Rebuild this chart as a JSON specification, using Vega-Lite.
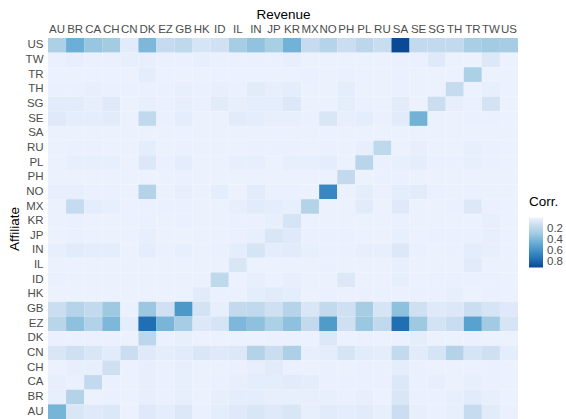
{
"$schema": "https://vega.github.io/schema/vega-lite/v6.json",
"width": 470,
"height": 381,
"autosize": {"type": "none"},
"padding": {"left": 48, "top": 38, "right": 48, "bottom": 0},
"background": "white",
"config": {"view": {"stroke": null}, "font": "Liberation Sans"},
"data": {"values": [
{"a":"US","r":"AU","v":0.25},{"a":"US","r":"BR","v":0.45},{"a":"US","r":"CA","v":0.32},{"a":"US","r":"CH","v":0.28},{"a":"US","r":"CN","v":0.05},{"a":"US","r":"DK","v":0.40},{"a":"US","r":"EZ","v":0.15},{"a":"US","r":"GB","v":0.18},{"a":"US","r":"HK","v":0.09},{"a":"US","r":"ID","v":0.11},{"a":"US","r":"IL","v":0.27},{"a":"US","r":"IN","v":0.34},{"a":"US","r":"JP","v":0.26},{"a":"US","r":"KR","v":0.43},{"a":"US","r":"MX","v":0.15},{"a":"US","r":"NO","v":0.21},{"a":"US","r":"PH","v":0.13},{"a":"US","r":"PL","v":0.19},{"a":"US","r":"RU","v":0.14},{"a":"US","r":"SA","v":0.89},{"a":"US","r":"SE","v":0.16},{"a":"US","r":"SG","v":0.16},{"a":"US","r":"TH","v":0.16},{"a":"US","r":"TR","v":0.26},{"a":"US","r":"TW","v":0.28},{"a":"US","r":"US","v":0.27},
{"a":"TW","r":"AU","v":0.02},{"a":"TW","r":"BR","v":0.03},{"a":"TW","r":"CA","v":0.02},{"a":"TW","r":"CH","v":0.02},{"a":"TW","r":"CN","v":0.03},{"a":"TW","r":"DK","v":0.03},{"a":"TW","r":"EZ","v":0.02},{"a":"TW","r":"GB","v":0.02},{"a":"TW","r":"HK","v":0.03},{"a":"TW","r":"ID","v":0.02},{"a":"TW","r":"IL","v":0.02},{"a":"TW","r":"IN","v":0.02},{"a":"TW","r":"JP","v":0.02},{"a":"TW","r":"KR","v":0.03},{"a":"TW","r":"MX","v":0.01},{"a":"TW","r":"NO","v":0.01},{"a":"TW","r":"PH","v":0.01},{"a":"TW","r":"PL","v":0.01},{"a":"TW","r":"RU","v":0.01},{"a":"TW","r":"SA","v":0.02},{"a":"TW","r":"SE","v":0.02},{"a":"TW","r":"SG","v":0.06},{"a":"TW","r":"TH","v":0.01},{"a":"TW","r":"TR","v":0.01},{"a":"TW","r":"TW","v":0.07},{"a":"TW","r":"US","v":0.01},
{"a":"TR","r":"AU","v":0.01},{"a":"TR","r":"BR","v":0.01},{"a":"TR","r":"CA","v":0.01},{"a":"TR","r":"CH","v":0.01},{"a":"TR","r":"CN","v":0.01},{"a":"TR","r":"DK","v":0.04},{"a":"TR","r":"EZ","v":0.01},{"a":"TR","r":"GB","v":0.01},{"a":"TR","r":"HK","v":0.01},{"a":"TR","r":"ID","v":0.01},{"a":"TR","r":"IL","v":0.01},{"a":"TR","r":"IN","v":0.01},{"a":"TR","r":"JP","v":0.01},{"a":"TR","r":"KR","v":0.01},{"a":"TR","r":"MX","v":0.02},{"a":"TR","r":"NO","v":0.01},{"a":"TR","r":"PH","v":0.02},{"a":"TR","r":"PL","v":0.01},{"a":"TR","r":"RU","v":0.01},{"a":"TR","r":"SA","v":0.02},{"a":"TR","r":"SE","v":0.01},{"a":"TR","r":"SG","v":0.01},{"a":"TR","r":"TH","v":0.01},{"a":"TR","r":"TR","v":0.25},{"a":"TR","r":"TW","v":0.01},{"a":"TR","r":"US","v":0.01},
{"a":"TH","r":"AU","v":0.02},{"a":"TH","r":"BR","v":0.02},{"a":"TH","r":"CA","v":0.03},{"a":"TH","r":"CH","v":0.02},{"a":"TH","r":"CN","v":0.02},{"a":"TH","r":"DK","v":0.02},{"a":"TH","r":"EZ","v":0.02},{"a":"TH","r":"GB","v":0.03},{"a":"TH","r":"HK","v":0.02},{"a":"TH","r":"ID","v":0.03},{"a":"TH","r":"IL","v":0.02},{"a":"TH","r":"IN","v":0.05},{"a":"TH","r":"JP","v":0.03},{"a":"TH","r":"KR","v":0.04},{"a":"TH","r":"MX","v":0.01},{"a":"TH","r":"NO","v":0.01},{"a":"TH","r":"PH","v":0.04},{"a":"TH","r":"PL","v":0.01},{"a":"TH","r":"RU","v":0.01},{"a":"TH","r":"SA","v":0.02},{"a":"TH","r":"SE","v":0.01},{"a":"TH","r":"SG","v":0.01},{"a":"TH","r":"TH","v":0.15},{"a":"TH","r":"TR","v":0.01},{"a":"TH","r":"TW","v":0.03},{"a":"TH","r":"US","v":0.01},
{"a":"SG","r":"AU","v":0.05},{"a":"SG","r":"BR","v":0.05},{"a":"SG","r":"CA","v":0.03},{"a":"SG","r":"CH","v":0.06},{"a":"SG","r":"CN","v":0.01},{"a":"SG","r":"DK","v":0.03},{"a":"SG","r":"EZ","v":0.02},{"a":"SG","r":"GB","v":0.03},{"a":"SG","r":"HK","v":0.02},{"a":"SG","r":"ID","v":0.05},{"a":"SG","r":"IL","v":0.03},{"a":"SG","r":"IN","v":0.04},{"a":"SG","r":"JP","v":0.04},{"a":"SG","r":"KR","v":0.07},{"a":"SG","r":"MX","v":0.01},{"a":"SG","r":"NO","v":0.01},{"a":"SG","r":"PH","v":0.04},{"a":"SG","r":"PL","v":0.02},{"a":"SG","r":"RU","v":0.01},{"a":"SG","r":"SA","v":0.05},{"a":"SG","r":"SE","v":0.01},{"a":"SG","r":"SG","v":0.13},{"a":"SG","r":"TH","v":0.03},{"a":"SG","r":"TR","v":0.02},{"a":"SG","r":"TW","v":0.10},{"a":"SG","r":"US","v":0.01},
{"a":"SE","r":"AU","v":0.06},{"a":"SE","r":"BR","v":0.04},{"a":"SE","r":"CA","v":0.04},{"a":"SE","r":"CH","v":0.05},{"a":"SE","r":"CN","v":0.01},{"a":"SE","r":"DK","v":0.17},{"a":"SE","r":"EZ","v":0.02},{"a":"SE","r":"GB","v":0.04},{"a":"SE","r":"HK","v":0.01},{"a":"SE","r":"ID","v":0.01},{"a":"SE","r":"IL","v":0.05},{"a":"SE","r":"IN","v":0.04},{"a":"SE","r":"JP","v":0.03},{"a":"SE","r":"KR","v":0.03},{"a":"SE","r":"MX","v":0.02},{"a":"SE","r":"NO","v":0.08},{"a":"SE","r":"PH","v":0.03},{"a":"SE","r":"PL","v":0.04},{"a":"SE","r":"RU","v":0.02},{"a":"SE","r":"SA","v":0.05},{"a":"SE","r":"SE","v":0.43},{"a":"SE","r":"SG","v":0.01},{"a":"SE","r":"TH","v":0.01},{"a":"SE","r":"TR","v":0.02},{"a":"SE","r":"TW","v":0.02},{"a":"SE","r":"US","v":0.01},
{"a":"SA","r":"AU","v":0.01},{"a":"SA","r":"BR","v":0.01},{"a":"SA","r":"CA","v":0.01},{"a":"SA","r":"CH","v":0.01},{"a":"SA","r":"CN","v":0.01},{"a":"SA","r":"DK","v":0.01},{"a":"SA","r":"EZ","v":0.01},{"a":"SA","r":"GB","v":0.01},{"a":"SA","r":"HK","v":0.01},{"a":"SA","r":"ID","v":0.01},{"a":"SA","r":"IL","v":0.01},{"a":"SA","r":"IN","v":0.01},{"a":"SA","r":"JP","v":0.01},{"a":"SA","r":"KR","v":0.01},{"a":"SA","r":"MX","v":0.01},{"a":"SA","r":"NO","v":0.01},{"a":"SA","r":"PH","v":0.01},{"a":"SA","r":"PL","v":0.01},{"a":"SA","r":"RU","v":0.01},{"a":"SA","r":"SA","v":0.01},{"a":"SA","r":"SE","v":0.01},{"a":"SA","r":"SG","v":0.01},{"a":"SA","r":"TH","v":0.01},{"a":"SA","r":"TR","v":0.01},{"a":"SA","r":"TW","v":0.01},{"a":"SA","r":"US","v":0.01},
{"a":"RU","r":"AU","v":0.01},{"a":"RU","r":"BR","v":0.02},{"a":"RU","r":"CA","v":0.02},{"a":"RU","r":"CH","v":0.01},{"a":"RU","r":"CN","v":0.01},{"a":"RU","r":"DK","v":0.04},{"a":"RU","r":"EZ","v":0.01},{"a":"RU","r":"GB","v":0.02},{"a":"RU","r":"HK","v":0.01},{"a":"RU","r":"ID","v":0.01},{"a":"RU","r":"IL","v":0.01},{"a":"RU","r":"IN","v":0.02},{"a":"RU","r":"JP","v":0.02},{"a":"RU","r":"KR","v":0.02},{"a":"RU","r":"MX","v":0.01},{"a":"RU","r":"NO","v":0.02},{"a":"RU","r":"PH","v":0.01},{"a":"RU","r":"PL","v":0.03},{"a":"RU","r":"RU","v":0.18},{"a":"RU","r":"SA","v":0.01},{"a":"RU","r":"SE","v":0.03},{"a":"RU","r":"SG","v":0.01},{"a":"RU","r":"TH","v":0.01},{"a":"RU","r":"TR","v":0.03},{"a":"RU","r":"TW","v":0.02},{"a":"RU","r":"US","v":0.01},
{"a":"PL","r":"AU","v":0.01},{"a":"PL","r":"BR","v":0.03},{"a":"PL","r":"CA","v":0.03},{"a":"PL","r":"CH","v":0.03},{"a":"PL","r":"CN","v":0.01},{"a":"PL","r":"DK","v":0.07},{"a":"PL","r":"EZ","v":0.02},{"a":"PL","r":"GB","v":0.04},{"a":"PL","r":"HK","v":0.01},{"a":"PL","r":"ID","v":0.01},{"a":"PL","r":"IL","v":0.03},{"a":"PL","r":"IN","v":0.03},{"a":"PL","r":"JP","v":0.01},{"a":"PL","r":"KR","v":0.03},{"a":"PL","r":"MX","v":0.03},{"a":"PL","r":"NO","v":0.04},{"a":"PL","r":"PH","v":0.01},{"a":"PL","r":"PL","v":0.20},{"a":"PL","r":"RU","v":0.02},{"a":"PL","r":"SA","v":0.03},{"a":"PL","r":"SE","v":0.04},{"a":"PL","r":"SG","v":0.02},{"a":"PL","r":"TH","v":0.02},{"a":"PL","r":"TR","v":0.03},{"a":"PL","r":"TW","v":0.02},{"a":"PL","r":"US","v":0.01},
{"a":"PH","r":"AU","v":0.01},{"a":"PH","r":"BR","v":0.01},{"a":"PH","r":"CA","v":0.01},{"a":"PH","r":"CH","v":0.01},{"a":"PH","r":"CN","v":0.01},{"a":"PH","r":"DK","v":0.01},{"a":"PH","r":"EZ","v":0.01},{"a":"PH","r":"GB","v":0.02},{"a":"PH","r":"HK","v":0.01},{"a":"PH","r":"ID","v":0.01},{"a":"PH","r":"IL","v":0.01},{"a":"PH","r":"IN","v":0.01},{"a":"PH","r":"JP","v":0.01},{"a":"PH","r":"KR","v":0.01},{"a":"PH","r":"MX","v":0.01},{"a":"PH","r":"NO","v":0.01},{"a":"PH","r":"PH","v":0.16},{"a":"PH","r":"PL","v":0.01},{"a":"PH","r":"RU","v":0.02},{"a":"PH","r":"SA","v":0.02},{"a":"PH","r":"SE","v":0.01},{"a":"PH","r":"SG","v":0.01},{"a":"PH","r":"TH","v":0.01},{"a":"PH","r":"TR","v":0.01},{"a":"PH","r":"TW","v":0.01},{"a":"PH","r":"US","v":0.01},
{"a":"NO","r":"AU","v":0.03},{"a":"NO","r":"BR","v":0.03},{"a":"NO","r":"CA","v":0.02},{"a":"NO","r":"CH","v":0.02},{"a":"NO","r":"CN","v":0.01},{"a":"NO","r":"DK","v":0.22},{"a":"NO","r":"EZ","v":0.01},{"a":"NO","r":"GB","v":0.03},{"a":"NO","r":"HK","v":0.01},{"a":"NO","r":"ID","v":0.04},{"a":"NO","r":"IL","v":0.01},{"a":"NO","r":"IN","v":0.05},{"a":"NO","r":"JP","v":0.02},{"a":"NO","r":"KR","v":0.02},{"a":"NO","r":"MX","v":0.01},{"a":"NO","r":"NO","v":0.65},{"a":"NO","r":"PH","v":0.01},{"a":"NO","r":"PL","v":0.04},{"a":"NO","r":"RU","v":0.02},{"a":"NO","r":"SA","v":0.04},{"a":"NO","r":"SE","v":0.05},{"a":"NO","r":"SG","v":0.02},{"a":"NO","r":"TH","v":0.01},{"a":"NO","r":"TR","v":0.02},{"a":"NO","r":"TW","v":0.01},{"a":"NO","r":"US","v":0.01},
{"a":"MX","r":"AU","v":0.01},{"a":"MX","r":"BR","v":0.15},{"a":"MX","r":"CA","v":0.04},{"a":"MX","r":"CH","v":0.03},{"a":"MX","r":"CN","v":0.01},{"a":"MX","r":"DK","v":0.02},{"a":"MX","r":"EZ","v":0.02},{"a":"MX","r":"GB","v":0.02},{"a":"MX","r":"HK","v":0.01},{"a":"MX","r":"ID","v":0.01},{"a":"MX","r":"IL","v":0.03},{"a":"MX","r":"IN","v":0.05},{"a":"MX","r":"JP","v":0.04},{"a":"MX","r":"KR","v":0.03},{"a":"MX","r":"MX","v":0.22},{"a":"MX","r":"NO","v":0.01},{"a":"MX","r":"PH","v":0.01},{"a":"MX","r":"PL","v":0.05},{"a":"MX","r":"RU","v":0.01},{"a":"MX","r":"SA","v":0.06},{"a":"MX","r":"SE","v":0.01},{"a":"MX","r":"SG","v":0.01},{"a":"MX","r":"TH","v":0.02},{"a":"MX","r":"TR","v":0.07},{"a":"MX","r":"TW","v":0.02},{"a":"MX","r":"US","v":0.01},
{"a":"KR","r":"AU","v":0.01},{"a":"KR","r":"BR","v":0.02},{"a":"KR","r":"CA","v":0.01},{"a":"KR","r":"CH","v":0.01},{"a":"KR","r":"CN","v":0.01},{"a":"KR","r":"DK","v":0.02},{"a":"KR","r":"EZ","v":0.01},{"a":"KR","r":"GB","v":0.02},{"a":"KR","r":"HK","v":0.01},{"a":"KR","r":"ID","v":0.01},{"a":"KR","r":"IL","v":0.02},{"a":"KR","r":"IN","v":0.02},{"a":"KR","r":"JP","v":0.03},{"a":"KR","r":"KR","v":0.09},{"a":"KR","r":"MX","v":0.01},{"a":"KR","r":"NO","v":0.01},{"a":"KR","r":"PH","v":0.01},{"a":"KR","r":"PL","v":0.01},{"a":"KR","r":"RU","v":0.01},{"a":"KR","r":"SA","v":0.02},{"a":"KR","r":"SE","v":0.01},{"a":"KR","r":"SG","v":0.01},{"a":"KR","r":"TH","v":0.01},{"a":"KR","r":"TR","v":0.01},{"a":"KR","r":"TW","v":0.03},{"a":"KR","r":"US","v":0.01},
{"a":"JP","r":"AU","v":0.01},{"a":"JP","r":"BR","v":0.02},{"a":"JP","r":"CA","v":0.01},{"a":"JP","r":"CH","v":0.01},{"a":"JP","r":"CN","v":0.01},{"a":"JP","r":"DK","v":0.03},{"a":"JP","r":"EZ","v":0.01},{"a":"JP","r":"GB","v":0.01},{"a":"JP","r":"HK","v":0.01},{"a":"JP","r":"ID","v":0.01},{"a":"JP","r":"IL","v":0.02},{"a":"JP","r":"IN","v":0.03},{"a":"JP","r":"JP","v":0.08},{"a":"JP","r":"KR","v":0.06},{"a":"JP","r":"MX","v":0.02},{"a":"JP","r":"NO","v":0.02},{"a":"JP","r":"PH","v":0.02},{"a":"JP","r":"PL","v":0.01},{"a":"JP","r":"RU","v":0.01},{"a":"JP","r":"SA","v":0.03},{"a":"JP","r":"SE","v":0.01},{"a":"JP","r":"SG","v":0.02},{"a":"JP","r":"TH","v":0.02},{"a":"JP","r":"TR","v":0.02},{"a":"JP","r":"TW","v":0.03},{"a":"JP","r":"US","v":0.01},
{"a":"IN","r":"AU","v":0.03},{"a":"IN","r":"BR","v":0.05},{"a":"IN","r":"CA","v":0.04},{"a":"IN","r":"CH","v":0.04},{"a":"IN","r":"CN","v":0.01},{"a":"IN","r":"DK","v":0.04},{"a":"IN","r":"EZ","v":0.02},{"a":"IN","r":"GB","v":0.03},{"a":"IN","r":"HK","v":0.01},{"a":"IN","r":"ID","v":0.02},{"a":"IN","r":"IL","v":0.04},{"a":"IN","r":"IN","v":0.09},{"a":"IN","r":"JP","v":0.04},{"a":"IN","r":"KR","v":0.05},{"a":"IN","r":"MX","v":0.03},{"a":"IN","r":"NO","v":0.02},{"a":"IN","r":"PH","v":0.02},{"a":"IN","r":"PL","v":0.03},{"a":"IN","r":"RU","v":0.03},{"a":"IN","r":"SA","v":0.07},{"a":"IN","r":"SE","v":0.02},{"a":"IN","r":"SG","v":0.01},{"a":"IN","r":"TH","v":0.02},{"a":"IN","r":"TR","v":0.04},{"a":"IN","r":"TW","v":0.03},{"a":"IN","r":"US","v":0.01},
{"a":"IL","r":"AU","v":0.01},{"a":"IL","r":"BR","v":0.01},{"a":"IL","r":"CA","v":0.01},{"a":"IL","r":"CH","v":0.01},{"a":"IL","r":"CN","v":0.01},{"a":"IL","r":"DK","v":0.01},{"a":"IL","r":"EZ","v":0.01},{"a":"IL","r":"GB","v":0.01},{"a":"IL","r":"HK","v":0.01},{"a":"IL","r":"ID","v":0.01},{"a":"IL","r":"IL","v":0.08},{"a":"IL","r":"IN","v":0.01},{"a":"IL","r":"JP","v":0.01},{"a":"IL","r":"KR","v":0.01},{"a":"IL","r":"MX","v":0.01},{"a":"IL","r":"NO","v":0.02},{"a":"IL","r":"PH","v":0.01},{"a":"IL","r":"PL","v":0.01},{"a":"IL","r":"RU","v":0.01},{"a":"IL","r":"SA","v":0.03},{"a":"IL","r":"SE","v":0.01},{"a":"IL","r":"SG","v":0.01},{"a":"IL","r":"TH","v":0.01},{"a":"IL","r":"TR","v":0.05},{"a":"IL","r":"TW","v":0.01},{"a":"IL","r":"US","v":0.01},
{"a":"ID","r":"AU","v":0.02},{"a":"ID","r":"BR","v":0.01},{"a":"ID","r":"CA","v":0.01},{"a":"ID","r":"CH","v":0.01},{"a":"ID","r":"CN","v":0.01},{"a":"ID","r":"DK","v":0.01},{"a":"ID","r":"EZ","v":0.01},{"a":"ID","r":"GB","v":0.01},{"a":"ID","r":"HK","v":0.01},{"a":"ID","r":"ID","v":0.18},{"a":"ID","r":"IL","v":0.01},{"a":"ID","r":"IN","v":0.03},{"a":"ID","r":"JP","v":0.01},{"a":"ID","r":"KR","v":0.03},{"a":"ID","r":"MX","v":0.01},{"a":"ID","r":"NO","v":0.01},{"a":"ID","r":"PH","v":0.07},{"a":"ID","r":"PL","v":0.01},{"a":"ID","r":"RU","v":0.01},{"a":"ID","r":"SA","v":0.03},{"a":"ID","r":"SE","v":0.01},{"a":"ID","r":"SG","v":0.02},{"a":"ID","r":"TH","v":0.02},{"a":"ID","r":"TR","v":0.02},{"a":"ID","r":"TW","v":0.02},{"a":"ID","r":"US","v":0.01},
{"a":"HK","r":"AU","v":0.01},{"a":"HK","r":"BR","v":0.01},{"a":"HK","r":"CA","v":0.01},{"a":"HK","r":"CH","v":0.01},{"a":"HK","r":"CN","v":0.01},{"a":"HK","r":"DK","v":0.01},{"a":"HK","r":"EZ","v":0.01},{"a":"HK","r":"GB","v":0.01},{"a":"HK","r":"HK","v":0.05},{"a":"HK","r":"ID","v":0.02},{"a":"HK","r":"IL","v":0.02},{"a":"HK","r":"IN","v":0.04},{"a":"HK","r":"JP","v":0.05},{"a":"HK","r":"KR","v":0.04},{"a":"HK","r":"MX","v":0.01},{"a":"HK","r":"NO","v":0.02},{"a":"HK","r":"PH","v":0.02},{"a":"HK","r":"PL","v":0.02},{"a":"HK","r":"RU","v":0.02},{"a":"HK","r":"SA","v":0.02},{"a":"HK","r":"SE","v":0.02},{"a":"HK","r":"SG","v":0.02},{"a":"HK","r":"TH","v":0.03},{"a":"HK","r":"TR","v":0.01},{"a":"HK","r":"TW","v":0.02},{"a":"HK","r":"US","v":0.01},
{"a":"GB","r":"AU","v":0.13},{"a":"GB","r":"BR","v":0.21},{"a":"GB","r":"CA","v":0.16},{"a":"GB","r":"CH","v":0.30},{"a":"GB","r":"CN","v":0.02},{"a":"GB","r":"DK","v":0.31},{"a":"GB","r":"EZ","v":0.11},{"a":"GB","r":"GB","v":0.57},{"a":"GB","r":"HK","v":0.10},{"a":"GB","r":"ID","v":0.03},{"a":"GB","r":"IL","v":0.16},{"a":"GB","r":"IN","v":0.17},{"a":"GB","r":"JP","v":0.12},{"a":"GB","r":"KR","v":0.21},{"a":"GB","r":"MX","v":0.08},{"a":"GB","r":"NO","v":0.16},{"a":"GB","r":"PH","v":0.12},{"a":"GB","r":"PL","v":0.27},{"a":"GB","r":"RU","v":0.09},{"a":"GB","r":"SA","v":0.35},{"a":"GB","r":"SE","v":0.12},{"a":"GB","r":"SG","v":0.06},{"a":"GB","r":"TH","v":0.07},{"a":"GB","r":"TR","v":0.13},{"a":"GB","r":"TW","v":0.09},{"a":"GB","r":"US","v":0.06},
{"a":"EZ","r":"AU","v":0.20},{"a":"EZ","r":"BR","v":0.35},{"a":"EZ","r":"CA","v":0.23},{"a":"EZ","r":"CH","v":0.40},{"a":"EZ","r":"CN","v":0.04},{"a":"EZ","r":"DK","v":0.76},{"a":"EZ","r":"EZ","v":0.41},{"a":"EZ","r":"GB","v":0.27},{"a":"EZ","r":"HK","v":0.07},{"a":"EZ","r":"ID","v":0.09},{"a":"EZ","r":"IL","v":0.40},{"a":"EZ","r":"IN","v":0.35},{"a":"EZ","r":"JP","v":0.25},{"a":"EZ","r":"KR","v":0.35},{"a":"EZ","r":"MX","v":0.16},{"a":"EZ","r":"NO","v":0.55},{"a":"EZ","r":"PH","v":0.12},{"a":"EZ","r":"PL","v":0.31},{"a":"EZ","r":"RU","v":0.17},{"a":"EZ","r":"SA","v":0.76},{"a":"EZ","r":"SE","v":0.30},{"a":"EZ","r":"SG","v":0.10},{"a":"EZ","r":"TH","v":0.14},{"a":"EZ","r":"TR","v":0.52},{"a":"EZ","r":"TW","v":0.29},{"a":"EZ","r":"US","v":0.09},
{"a":"DK","r":"AU","v":0.02},{"a":"DK","r":"BR","v":0.02},{"a":"DK","r":"CA","v":0.02},{"a":"DK","r":"CH","v":0.02},{"a":"DK","r":"CN","v":0.01},{"a":"DK","r":"DK","v":0.19},{"a":"DK","r":"EZ","v":0.02},{"a":"DK","r":"GB","v":0.03},{"a":"DK","r":"HK","v":0.01},{"a":"DK","r":"ID","v":0.01},{"a":"DK","r":"IL","v":0.01},{"a":"DK","r":"IN","v":0.01},{"a":"DK","r":"JP","v":0.02},{"a":"DK","r":"KR","v":0.02},{"a":"DK","r":"MX","v":0.01},{"a":"DK","r":"NO","v":0.07},{"a":"DK","r":"PH","v":0.01},{"a":"DK","r":"PL","v":0.02},{"a":"DK","r":"RU","v":0.01},{"a":"DK","r":"SA","v":0.02},{"a":"DK","r":"SE","v":0.04},{"a":"DK","r":"SG","v":0.01},{"a":"DK","r":"TH","v":0.01},{"a":"DK","r":"TR","v":0.02},{"a":"DK","r":"TW","v":0.01},{"a":"DK","r":"US","v":0.01},
{"a":"CN","r":"AU","v":0.08},{"a":"CN","r":"BR","v":0.12},{"a":"CN","r":"CA","v":0.08},{"a":"CN","r":"CH","v":0.05},{"a":"CN","r":"CN","v":0.13},{"a":"CN","r":"DK","v":0.06},{"a":"CN","r":"EZ","v":0.04},{"a":"CN","r":"GB","v":0.05},{"a":"CN","r":"HK","v":0.08},{"a":"CN","r":"ID","v":0.06},{"a":"CN","r":"IL","v":0.07},{"a":"CN","r":"IN","v":0.22},{"a":"CN","r":"JP","v":0.13},{"a":"CN","r":"KR","v":0.25},{"a":"CN","r":"MX","v":0.03},{"a":"CN","r":"NO","v":0.04},{"a":"CN","r":"PH","v":0.09},{"a":"CN","r":"PL","v":0.05},{"a":"CN","r":"RU","v":0.04},{"a":"CN","r":"SA","v":0.16},{"a":"CN","r":"SE","v":0.05},{"a":"CN","r":"SG","v":0.09},{"a":"CN","r":"TH","v":0.22},{"a":"CN","r":"TR","v":0.09},{"a":"CN","r":"TW","v":0.12},{"a":"CN","r":"US","v":0.04},
{"a":"CH","r":"AU","v":0.01},{"a":"CH","r":"BR","v":0.03},{"a":"CH","r":"CA","v":0.03},{"a":"CH","r":"CH","v":0.12},{"a":"CH","r":"CN","v":0.01},{"a":"CH","r":"DK","v":0.03},{"a":"CH","r":"EZ","v":0.02},{"a":"CH","r":"GB","v":0.03},{"a":"CH","r":"HK","v":0.01},{"a":"CH","r":"ID","v":0.01},{"a":"CH","r":"IL","v":0.02},{"a":"CH","r":"IN","v":0.03},{"a":"CH","r":"JP","v":0.05},{"a":"CH","r":"KR","v":0.02},{"a":"CH","r":"MX","v":0.01},{"a":"CH","r":"NO","v":0.02},{"a":"CH","r":"PH","v":0.01},{"a":"CH","r":"PL","v":0.02},{"a":"CH","r":"RU","v":0.02},{"a":"CH","r":"SA","v":0.04},{"a":"CH","r":"SE","v":0.02},{"a":"CH","r":"SG","v":0.01},{"a":"CH","r":"TH","v":0.01},{"a":"CH","r":"TR","v":0.02},{"a":"CH","r":"TW","v":0.02},{"a":"CH","r":"US","v":0.01},
{"a":"CA","r":"AU","v":0.03},{"a":"CA","r":"BR","v":0.02},{"a":"CA","r":"CA","v":0.16},{"a":"CA","r":"CH","v":0.02},{"a":"CA","r":"CN","v":0.01},{"a":"CA","r":"DK","v":0.03},{"a":"CA","r":"EZ","v":0.02},{"a":"CA","r":"GB","v":0.03},{"a":"CA","r":"HK","v":0.01},{"a":"CA","r":"ID","v":0.02},{"a":"CA","r":"IL","v":0.03},{"a":"CA","r":"IN","v":0.04},{"a":"CA","r":"JP","v":0.04},{"a":"CA","r":"KR","v":0.05},{"a":"CA","r":"MX","v":0.04},{"a":"CA","r":"NO","v":0.02},{"a":"CA","r":"PH","v":0.02},{"a":"CA","r":"PL","v":0.02},{"a":"CA","r":"RU","v":0.02},{"a":"CA","r":"SA","v":0.07},{"a":"CA","r":"SE","v":0.02},{"a":"CA","r":"SG","v":0.03},{"a":"CA","r":"TH","v":0.01},{"a":"CA","r":"TR","v":0.03},{"a":"CA","r":"TW","v":0.02},{"a":"CA","r":"US","v":0.01},
{"a":"BR","r":"AU","v":0.03},{"a":"BR","r":"BR","v":0.22},{"a":"BR","r":"CA","v":0.01},{"a":"BR","r":"CH","v":0.02},{"a":"BR","r":"CN","v":0.01},{"a":"BR","r":"DK","v":0.03},{"a":"BR","r":"EZ","v":0.02},{"a":"BR","r":"GB","v":0.03},{"a":"BR","r":"HK","v":0.01},{"a":"BR","r":"ID","v":0.03},{"a":"BR","r":"IL","v":0.04},{"a":"BR","r":"IN","v":0.04},{"a":"BR","r":"JP","v":0.03},{"a":"BR","r":"KR","v":0.03},{"a":"BR","r":"MX","v":0.03},{"a":"BR","r":"NO","v":0.03},{"a":"BR","r":"PH","v":0.02},{"a":"BR","r":"PL","v":0.03},{"a":"BR","r":"RU","v":0.01},{"a":"BR","r":"SA","v":0.08},{"a":"BR","r":"SE","v":0.02},{"a":"BR","r":"SG","v":0.02},{"a":"BR","r":"TH","v":0.03},{"a":"BR","r":"TR","v":0.05},{"a":"BR","r":"TW","v":0.03},{"a":"BR","r":"US","v":0.01},
{"a":"AU","r":"AU","v":0.42},{"a":"AU","r":"BR","v":0.08},{"a":"AU","r":"CA","v":0.06},{"a":"AU","r":"CH","v":0.07},{"a":"AU","r":"CN","v":0.01},{"a":"AU","r":"DK","v":0.06},{"a":"AU","r":"EZ","v":0.04},{"a":"AU","r":"GB","v":0.07},{"a":"AU","r":"HK","v":0.02},{"a":"AU","r":"ID","v":0.04},{"a":"AU","r":"IL","v":0.06},{"a":"AU","r":"IN","v":0.08},{"a":"AU","r":"JP","v":0.06},{"a":"AU","r":"KR","v":0.08},{"a":"AU","r":"MX","v":0.03},{"a":"AU","r":"NO","v":0.05},{"a":"AU","r":"PH","v":0.04},{"a":"AU","r":"PL","v":0.05},{"a":"AU","r":"RU","v":0.03},{"a":"AU","r":"SA","v":0.13},{"a":"AU","r":"SE","v":0.03},{"a":"AU","r":"SG","v":0.02},{"a":"AU","r":"TH","v":0.03},{"a":"AU","r":"TR","v":0.15},{"a":"AU","r":"TW","v":0.05},{"a":"AU","r":"US","v":0.02}
]},
"mark": {"type": "rect", "strokeWidth": 0},
"encoding": {
"x": {"field": "r", "type": "nominal", "sort": ["AU","BR","CA","CH","CN","DK","EZ","GB","HK","ID","IL","IN","JP","KR","MX","NO","PH","PL","RU","SA","SE","SG","TH","TR","TW","US"], "scale": {"paddingInner": 0, "paddingOuter": 0},
"axis": {"orient": "top", "title": "Revenue", "labelAngle": 0, "ticks": false, "domain": false, "grid": false, "labelPadding": 4, "labelFontSize": 11.5, "labelColor": "#4d4d4d", "labelFont": "Liberation Sans", "titleFont": "Liberation Sans", "titleFontSize": 13.5, "titleFontWeight": "normal", "titleColor": "#000000", "titlePadding": 2, "labelOverlap": false}},
"y": {"field": "a", "type": "nominal", "sort": ["US","TW","TR","TH","SG","SE","SA","RU","PL","PH","NO","MX","KR","JP","IN","IL","ID","HK","GB","EZ","DK","CN","CH","CA","BR","AU"], "scale": {"paddingInner": 0, "paddingOuter": 0},
"axis": {"title": "Affiliate", "ticks": false, "domain": false, "grid": false, "labelPadding": 5, "labelFontSize": 11.5, "labelColor": "#4d4d4d", "labelFont": "Liberation Sans", "titleFont": "Liberation Sans", "titleFontSize": 13.5, "titleFontWeight": "normal", "titleColor": "#000000", "titlePadding": 4}},
"color": {"field": "v", "type": "quantitative", "title": "Corr.",
"scale": {"domain": [0.9, 0], "range": ["#084594","#2171b5","#4292c6","#6baed6","#9ecae1","#c6dbef","#eff3ff"], "interpolate": "lab"},
"legend": {"orient": "none", "legendX": 481, "legendY": 157, "values": [0.2, 0.4, 0.6, 0.8], "gradientLength": 50, "gradientThickness": 14, "gradientStrokeWidth": 0, "titleFont": "Liberation Sans", "titleFontSize": 13.5, "titleFontWeight": "normal", "titleColor": "#000000", "titlePadding": 9, "labelFont": "Liberation Sans", "labelFontSize": 11.5, "labelColor": "#4d4d4d", "labelOffset": 4, "labelOverlap": false}}
}
}
